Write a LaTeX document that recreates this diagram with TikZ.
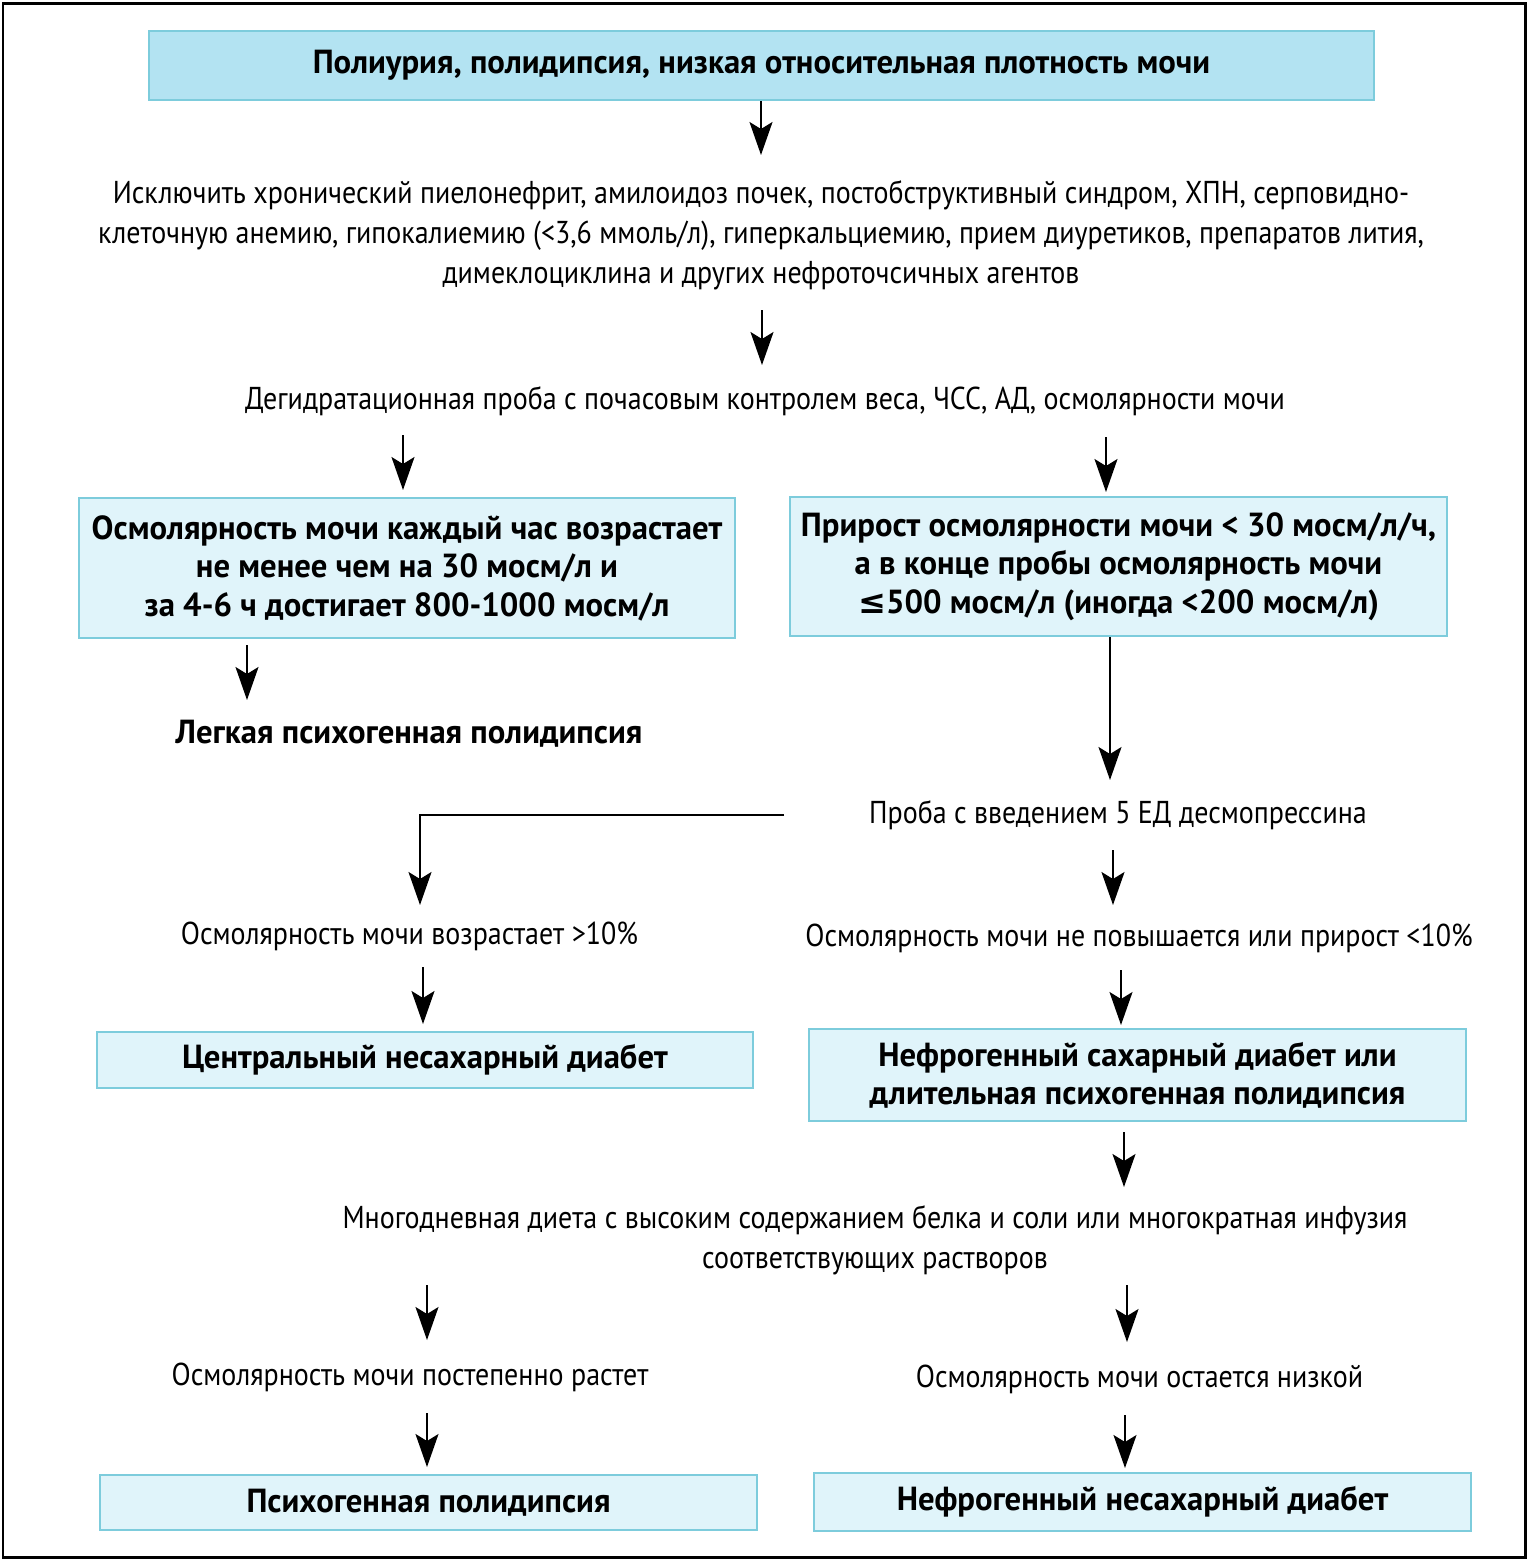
\documentclass[tikz,border=0pt]{standalone}
\usepackage{fontspec}
\setmainfont{PT Sans}[FakeStretch=0.885, BoldFeatures={FakeStretch=0.98}]
\newfontfamily\symfont{DejaVu Sans}
\usepackage{tikz}
\usetikzlibrary{arrows.meta,positioning}

\definecolor{boxedge}{HTML}{7DCCDC}
\definecolor{boxfill}{HTML}{E0F4FA}
\definecolor{headfill}{HTML}{B3E3F2}

\begin{document}
\begin{tikzpicture}[
      x=0.02cm, y=-0.02cm,
      box/.style={rectangle, draw=boxedge, line width=1.2pt, fill=boxfill, align=center,
                  font=\fontsize{19}{21.9}\selectfont\bfseries, inner sep=0pt},
      headbox/.style={box, fill=headfill},
      txt/.style={align=center, font=\fontsize{18}{22.8}\selectfont, inner sep=0pt},
      btxt/.style={txt, font=\fontsize{19}{21.9}\selectfont\bfseries},
      line/.style={draw, line width=1.1pt, -{Stealth[length=0.66cm, width=0.46cm, inset=0.14cm]}}
    ]
    \useasboundingbox (0,0) rectangle (1528,1560);
    \draw[line width=1.7pt] (3,3) rectangle (1525,1557);

    % boxes
    \node[headbox, minimum width=24.5cm, minimum height=1.38cm] (head) at (761.5,65.5)
        {Полиурия, полидипсия, низкая относительная плотность мочи};
    \node[box, minimum width=13.12cm, minimum height=2.8cm] (fast) at (407,568)
        {Осмолярность мочи каждый час возрастает\\не менее чем на 30 мосм/л и\\за 4-6 ч достигает 800-1000 мосм/л};
    \node[box, minimum width=13.14cm, minimum height=2.78cm] (slow) at (1118.5,566.5)
        {Прирост осмолярности мочи < 30 мосм/л/ч,\\а в конце пробы осмолярность мочи\\{\symfont\bfseries ≤}500 мосм/л (иногда <200 мосм/л)};
    \node[box, minimum width=13.12cm, minimum height=1.12cm] (cdi) at (425,1060)
        {Центральный несахарный диабет};
    \node[box, minimum width=13.14cm, minimum height=1.84cm] (ndiA) at (1137.5,1075)
        {Нефрогенный сахарный диабет или\\длительная психогенная полидипсия};
    \node[box, minimum width=13.14cm, minimum height=1.1cm] (psy) at (428.5,1502.5)
        {Психогенная полидипсия};
    \node[box, minimum width=13.14cm, minimum height=1.16cm] (ndiB) at (1142.5,1502)
        {Нефрогенный несахарный диабет};

    % plain texts
    \node[txt] (excl) at (761,235)
        {Исключить хронический пиелонефрит, амилоидоз почек, постобструктивный синдром, ХПН, серповидно-\\клеточную анемию, гипокалиемию (<3,6 ммоль/л), гиперкальциемию, прием диуретиков, препаратов лития,\\димеклоциклина и других нефроточсичных агентов};
    \node[txt] (dehyd) at (765,401)
        {Дегидратационная проба с почасовым контролем веса, ЧСС, АД, осмолярности мочи};
    \node[btxt] (mild) at (409,734) {Легкая психогенная полидипсия};
    \node[txt] (desmo) at (1118,815) {Проба с введением 5 ЕД десмопрессина};
    \node[txt] (up10) at (409.5,936) {Осмолярность мочи возрастает >10\%};
    \node[txt] (no10) at (1139,938) {Осмолярность мочи не повышается или прирост <10\%};
    \node[txt] (diet) at (875,1240)
        {Многодневная диета с высоким содержанием белка и соли или многократная инфузия\\соответствующих растворов};
    \node[txt] (grows) at (410,1377) {Осмолярность мочи постепенно растет};
    \node[txt] (low) at (1139.5,1379) {Осмолярность мочи остается низкой};

    % arrow ends
    \foreach \n/\x/\ya/\yb in {2/762/310/365, 3/403/435/490, 4/1106/437/492,
        5/247/645/700, 8/1113/850/905, 9/423/967/1024, 10/1121/970/1025,
        11/1124/1132/1187, 12/427/1285/1340, 13/1127/1285/1342,
        14/427/1413/1467, 15/1125/1415/1468} {
        \coordinate (s\n) at (\x,\ya);
        \coordinate (e\n) at (\x,\yb);
        \draw[line] (s\n) -- (e\n);
    }
    \coordinate (e1) at (761,155);
    \coordinate (e6) at (1110,780);
    \coordinate (s7) at (784,815);
    \coordinate (e7) at (420,905);

    \draw[line] (head.south -| e1) -- (e1);
    \draw[line] (slow.south -| e6) -- (e6);
    \draw[line] (s7) -| (e7);
  \end{tikzpicture}
\end{document}
